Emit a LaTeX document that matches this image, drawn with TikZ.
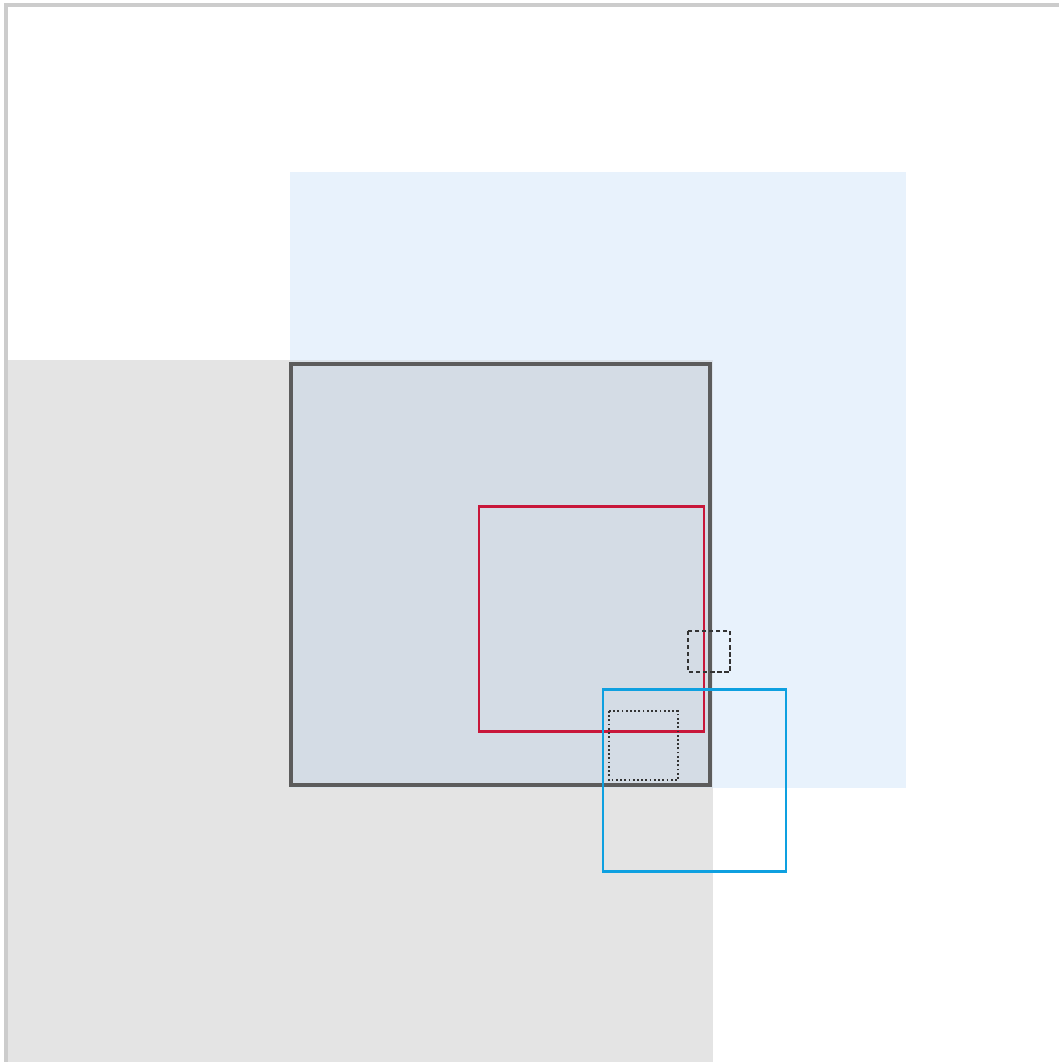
\documentclass[tikz,border=0pt]{standalone}
\usepackage{xcolor}
\definecolor{frameGrey}{HTML}{CCCCCC}
\definecolor{areaGrey}{HTML}{E4E4E4}
\definecolor{areaBlue}{HTML}{E8F2FC}
\definecolor{mixBlue}{HTML}{DCE3EA}
\definecolor{boxFill}{HTML}{D4DCE5}
\definecolor{boxEdge}{HTML}{5C5C5C}
\definecolor{redEdge}{HTML}{C8173A}
\definecolor{blueEdge}{HTML}{0EA0E0}
\definecolor{inkDark}{HTML}{333333}

\begin{document}
\begin{tikzpicture}[
    x=0.01cm, y=-0.01cm,
    outline/.style={draw=frameGrey, line width=0.9pt},
    mainbox/.style={draw=boxEdge, fill=boxFill, line width=0.95pt},
    redbox/.style={draw=redEdge, line width=0.85pt},
    bluebox/.style={draw=blueEdge, line width=0.85pt},
    dashbox/.style={draw=inkDark, dash pattern=on 1.2pt off 0.8pt, line width=0.45pt},
    dotbox/.style={draw=inkDark, dash pattern=on 0.5pt off 0.7pt, line width=0.55pt},
]
    \useasboundingbox (0,0) rectangle (1059,1062);
    % background areas
    \fill[areaGrey] (7,360) rectangle (713,1062);
    \fill[areaBlue] (290,172) rectangle (906,788);
    \fill[mixBlue] (290,360) rectangle (713,788);
    % outer frame
    \draw[outline] (6,1062) -- (6,5) -- (1059,5);
    % boxes
    \draw[mainbox] (291,364) rectangle (710,785);
    \draw[redbox] (479,506) rectangle (704,731);
    \draw[dashbox] (688,631) rectangle (730,672);
    \draw[bluebox] (603,689) rectangle (786,871);
    \draw[dotbox] (609,711) rectangle (678,780);
\end{tikzpicture}
\end{document}
